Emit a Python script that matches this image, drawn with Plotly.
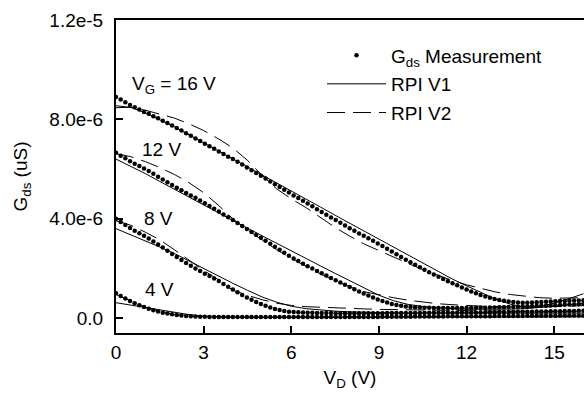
import plotly.graph_objects as go

# ---------------- data (Gds in units of 1e-6 S) ----------------
SCALE = 1e-6

# measurement drain voltages (V)
VD = [0.00, 0.16, 0.32, 0.48, 0.64, 0.80, 0.96, 1.12, 1.28, 1.44,
      1.60, 1.76, 1.92, 2.08, 2.24, 2.40, 2.56, 2.72, 2.88, 3.04,
      3.20, 3.36, 3.52, 3.68, 3.84, 4.00, 4.16, 4.32, 4.48, 4.64,
      4.80, 4.96, 5.12, 5.28, 5.44, 5.60, 5.76, 5.92, 6.08, 6.24,
      6.40, 6.56, 6.72, 6.88, 7.04, 7.20, 7.36, 7.52, 7.68, 7.84,
      8.00, 8.16, 8.32, 8.48, 8.64, 8.80, 8.96, 9.12, 9.28, 9.44,
      9.60, 9.76, 9.92, 10.08, 10.24, 10.40, 10.56, 10.72, 10.88, 11.04,
      11.20, 11.36, 11.52, 11.68, 11.84, 12.00, 12.16, 12.32, 12.48, 12.64,
      12.80, 12.96, 13.12, 13.28, 13.44, 13.60, 13.76, 13.92, 14.08, 14.24,
      14.40, 14.56, 14.72, 14.88, 15.04, 15.20, 15.36, 15.52, 15.68, 15.84,
      16.00]

meas_16V = [8.90, 8.80, 8.69, 8.58, 8.49, 8.40, 8.30, 8.23, 8.13, 8.04,
            7.94, 7.85, 7.75, 7.65, 7.55, 7.44, 7.34, 7.23, 7.13, 7.02,
            6.92, 6.82, 6.71, 6.61, 6.50, 6.40, 6.29, 6.18, 6.06, 5.95,
            5.84, 5.73, 5.62, 5.50, 5.39, 5.28, 5.17, 5.06, 4.94, 4.83,
            4.72, 4.61, 4.50, 4.38, 4.27, 4.16, 4.05, 3.95, 3.84, 3.73,
            3.62, 3.52, 3.41, 3.31, 3.21, 3.11, 3.00, 2.90, 2.79, 2.68,
            2.57, 2.46, 2.35, 2.25, 2.15, 2.05, 1.95, 1.85, 1.75, 1.66,
            1.57, 1.48, 1.40, 1.32, 1.23, 1.15, 1.07, 1.00, 0.93, 0.87,
            0.82, 0.77, 0.73, 0.70, 0.67, 0.65, 0.63, 0.62, 0.62, 0.63,
            0.64, 0.65, 0.66, 0.67, 0.68, 0.69, 0.69, 0.70, 0.71, 0.71,
            0.72]

meas_12V = [6.66, 6.54, 6.43, 6.31, 6.21, 6.12, 6.02, 5.92, 5.81, 5.69,
            5.58, 5.47, 5.36, 5.25, 5.15, 5.04, 4.94, 4.84, 4.73, 4.62,
            4.51, 4.40, 4.29, 4.17, 4.06, 3.95, 3.83, 3.71, 3.59, 3.47,
            3.35, 3.23, 3.11, 2.99, 2.87, 2.75, 2.63, 2.51, 2.40, 2.30,
            2.19, 2.09, 2.00, 1.90, 1.81, 1.71, 1.61, 1.52, 1.43, 1.34,
            1.25, 1.16, 1.07, 0.99, 0.91, 0.83, 0.75, 0.69, 0.63, 0.57,
            0.53, 0.50, 0.47, 0.45, 0.44, 0.43, 0.42, 0.42, 0.41, 0.41,
            0.41, 0.41, 0.41, 0.41, 0.41, 0.41, 0.41, 0.42, 0.42, 0.42,
            0.43, 0.43, 0.44, 0.44, 0.45, 0.45, 0.46, 0.47, 0.47, 0.48,
            0.49, 0.50, 0.50, 0.51, 0.52, 0.53, 0.54, 0.55, 0.55, 0.56,
            0.57]

meas_8V = [4.00, 3.87, 3.75, 3.63, 3.52, 3.42, 3.31, 3.20, 3.08, 2.96,
           2.84, 2.71, 2.58, 2.46, 2.34, 2.22, 2.11, 2.00, 1.90, 1.79,
           1.69, 1.59, 1.49, 1.37, 1.26, 1.15, 1.04, 0.93, 0.83, 0.74,
           0.65, 0.57, 0.50, 0.43, 0.37, 0.33, 0.29, 0.26, 0.25, 0.24,
           0.23, 0.22, 0.22, 0.21, 0.21, 0.21, 0.21, 0.20, 0.20, 0.20,
           0.20, 0.20, 0.20, 0.20, 0.20, 0.20, 0.20, 0.20, 0.21, 0.21,
           0.21, 0.21, 0.21, 0.21, 0.21, 0.21, 0.22, 0.22, 0.22, 0.22,
           0.22, 0.22, 0.22, 0.23, 0.23, 0.23, 0.23, 0.23, 0.24, 0.24,
           0.24, 0.24, 0.25, 0.25, 0.25, 0.25, 0.26, 0.26, 0.26, 0.26,
           0.27, 0.27, 0.27, 0.28, 0.28, 0.28, 0.29, 0.29, 0.29, 0.30,
           0.30]

meas_4V = [1.00, 0.89, 0.79, 0.69, 0.60, 0.52, 0.45, 0.38, 0.32, 0.27,
           0.22, 0.18, 0.15, 0.12, 0.10, 0.08, 0.07, 0.06, 0.05, 0.05,
           0.04, 0.04, 0.04, 0.04, 0.04, 0.04, 0.04, 0.04, 0.04, 0.04,
           0.04, 0.04, 0.04, 0.04, 0.04, 0.04, 0.04, 0.04, 0.04, 0.04,
           0.04, 0.04, 0.04, 0.04, 0.04, 0.04, 0.04, 0.04, 0.04, 0.04,
           0.04, 0.04, 0.04, 0.04, 0.04, 0.04, 0.04, 0.05, 0.05, 0.05,
           0.05, 0.05, 0.05, 0.05, 0.06, 0.06, 0.06, 0.06, 0.06, 0.06,
           0.06, 0.07, 0.07, 0.07, 0.07, 0.07, 0.07, 0.07, 0.07, 0.07,
           0.07, 0.08, 0.08, 0.08, 0.08, 0.08, 0.08, 0.08, 0.09, 0.09,
           0.09, 0.09, 0.09, 0.09, 0.09, 0.10, 0.10, 0.10, 0.10, 0.10,
           0.10]

# model drain voltages (V)
VM = [0.0, 0.5, 1.0, 1.5, 2.0, 2.5, 3.0, 3.5, 4.0, 4.5, 5.0,
      5.5, 6.0, 6.5, 7.0, 7.5, 8.0, 8.5, 9.0, 9.5, 10.0, 10.5,
      11.0, 11.5, 12.0, 12.5, 13.0, 13.5, 14.0, 14.5, 15.0, 15.5, 16.0]

rpi1_16V = [8.47, 8.49, 8.26, 7.98, 7.70, 7.38, 7.06, 6.74, 6.42, 6.10, 5.77,
            5.44, 5.12, 4.80, 4.47, 4.14, 3.82, 3.50, 3.17, 2.84, 2.52, 2.20,
            1.88, 1.58, 1.30, 1.02, 0.76, 0.56, 0.44, 0.46, 0.60, 0.78, 0.98]
rpi2_16V = [8.55, 8.48, 8.37, 8.22, 8.05, 7.82, 7.55, 7.22, 6.85, 6.35, 5.75,
            5.20, 4.80, 4.45, 4.05, 3.65, 3.30, 2.98, 2.72, 2.45, 2.20, 1.95,
            1.72, 1.52, 1.34, 1.18, 1.05, 0.95, 0.87, 0.82, 0.80, 0.80, 0.82]

rpi1_12V = [6.40, 6.12, 5.82, 5.50, 5.18, 4.86, 4.55, 4.24, 3.93, 3.62, 3.31,
            3.00, 2.70, 2.40, 2.10, 1.80, 1.50, 1.20, 0.92, 0.70, 0.55, 0.47,
            0.42, 0.38, 0.36, 0.35, 0.35, 0.36, 0.38, 0.42, 0.47, 0.53, 0.60]
rpi2_12V = [6.62, 6.50, 6.30, 6.06, 5.78, 5.45, 5.05, 4.55, 4.00, 3.55, 3.15,
            2.75, 2.40, 2.08, 1.78, 1.50, 1.26, 1.06, 0.93, 0.82, 0.72, 0.64,
            0.58, 0.54, 0.50, 0.48, 0.46, 0.45, 0.45, 0.45, 0.46, 0.48, 0.50]

rpi1_8V = [3.60, 3.36, 3.12, 2.86, 2.60, 2.30, 1.98, 1.68, 1.40, 1.12, 0.85,
           0.64, 0.48, 0.38, 0.32, 0.28, 0.25, 0.23, 0.22, 0.21, 0.20, 0.20,
           0.20, 0.20, 0.20, 0.20, 0.20, 0.20, 0.20, 0.20, 0.20, 0.20, 0.20]
rpi2_8V = [3.92, 3.74, 3.46, 3.15, 2.75, 2.32, 1.92, 1.55, 1.12, 0.92, 0.74,
           0.60, 0.51, 0.46, 0.43, 0.41, 0.39, 0.37, 0.35, 0.34, 0.33, 0.32,
           0.31, 0.30, 0.29, 0.28, 0.28, 0.27, 0.27, 0.26, 0.26, 0.26, 0.26]

rpi1_4V = [0.62, 0.52, 0.42, 0.32, 0.22, 0.14, 0.08, 0.05, 0.03, 0.02, 0.02,
           0.02, 0.02, 0.02, 0.02, 0.02, 0.02, 0.02, 0.02, 0.02, 0.02, 0.02,
           0.03, 0.03, 0.03, 0.03, 0.03, 0.04, 0.04, 0.04, 0.04, 0.05, 0.05]
rpi2_4V = [0.95, 0.68, 0.44, 0.26, 0.14, 0.08, 0.05, 0.04, 0.04, 0.04, 0.04,
           0.04, 0.04, 0.04, 0.04, 0.04, 0.04, 0.04, 0.04, 0.04, 0.04, 0.04,
           0.05, 0.05, 0.05, 0.05, 0.05, 0.05, 0.05, 0.06, 0.06, 0.06, 0.06]

X_TICKS = [0, 3, 6, 9, 12, 15]
Y_TICKS = [0.0, 4.0e-6, 8.0e-6, 1.2e-5]
Y_TICK_TEXT = ["0.0", "4.0e-6", "8.0e-6", "1.2e-5"]

# ---------------- figure ----------------
FONT = "Liberation Sans, Arial, sans-serif"
FS = 19
fig = go.Figure()

meas = [meas_16V, meas_12V, meas_8V, meas_4V]
rpi1 = [rpi1_16V, rpi1_12V, rpi1_8V, rpi1_4V]
rpi2 = [rpi2_16V, rpi2_12V, rpi2_8V, rpi2_4V]

for k, g in enumerate(rpi1):
    fig.add_trace(go.Scatter(
        x=VM, y=[v * SCALE for v in g], mode="lines",
        line=dict(color="black", width=1),
        name="RPI V1", legendgroup="v1", showlegend=(k == 0), legendrank=2))
for k, g in enumerate(rpi2):
    fig.add_trace(go.Scatter(
        x=VM, y=[v * SCALE for v in g], mode="lines",
        line=dict(color="black", width=1, dash="18px,8px"),
        name="RPI V2", legendgroup="v2", showlegend=(k == 0), legendrank=3))
for k, g in enumerate(meas):
    fig.add_trace(go.Scatter(
        x=VD, y=[v * SCALE for v in g], mode="markers",
        marker=dict(color="black", size=4.5, symbol="circle"),
        name="G<sub>ds</sub> Measurement", legendgroup="meas",
        showlegend=(k == 0), legendrank=1))

labels = [("V<sub>G</sub> = 16 V", 1.97, 9.4e-6),
          ("12 V", 1.56, 6.8e-6),
          ("8 V", 1.44, 4.0e-6),
          ("4 V", 1.50, 1.15e-6)]
for txt, xx, yy in labels:
    fig.add_annotation(x=xx, y=yy, text=txt, showarrow=False,
                       xanchor="center", yanchor="middle",
                       font=dict(family=FONT, size=FS, color="black"))

fig.update_layout(
    template="none",
    width=584, height=394,
    margin=dict(l=116, r=0, t=20, b=61, autoexpand=False),
    paper_bgcolor="white", plot_bgcolor="white",
    font=dict(family=FONT, size=FS, color="black"),
    showlegend=True,
    legend=dict(x=0.4402, y=0.948, xanchor="left", yanchor="top",
                bgcolor="rgba(0,0,0,0)", borderwidth=0,
                font=dict(family=FONT, size=FS, color="black"),
                itemwidth=59, tracegroupgap=1),
)
fig.update_xaxes(
    automargin=False,
    range=[0, 16.02], tickvals=X_TICKS, ticks="inside", ticklen=7, tickwidth=2,
    tickcolor="black",
    showline=True, linecolor="black", linewidth=2, mirror=True,
    showgrid=False, zeroline=False, ticklabelstandoff=1,
    tickfont=dict(family=FONT, size=FS, color="black"),
    title=dict(text="V<sub>D</sub> (V)", standoff=9,
               font=dict(family=FONT, size=FS, color="black")),
)
fig.update_yaxes(
    automargin=False,
    range=[-0.6e-6, 1.2e-5], tickvals=Y_TICKS, ticktext=Y_TICK_TEXT,
    ticks="inside", ticklen=7, tickwidth=2, tickcolor="black",
    showline=True, linecolor="black", linewidth=2, mirror=False,
    showgrid=False, zeroline=False, ticklabelstandoff=7,
    tickfont=dict(family=FONT, size=FS, color="black"),
    title=dict(text="G<sub>ds</sub> (uS)", standoff=17,
               font=dict(family=FONT, size=FS, color="black")),
)

fig.write_html("out.html",
               config={"displayModeBar": False},
               post_script="document.body.style.margin='0';")
